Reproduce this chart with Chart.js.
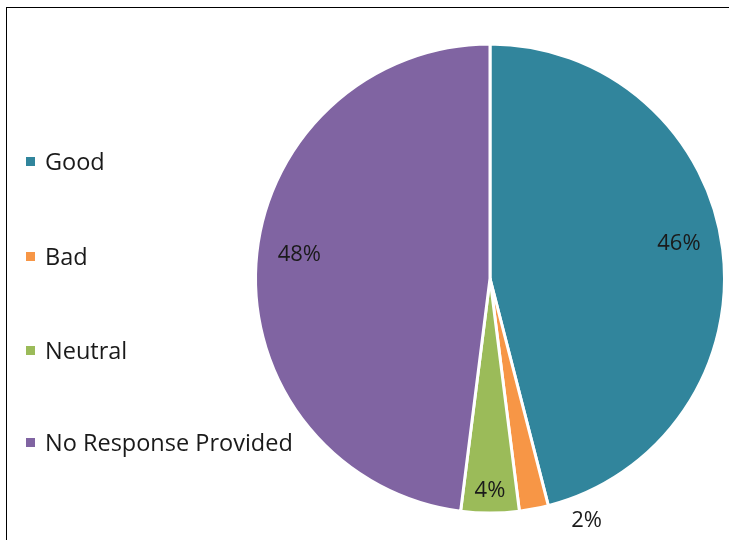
<!DOCTYPE html>
<html>
<head>
<meta charset="utf-8">
<script src="https://cdn.jsdelivr.net/npm/chart.js@4.4.1/dist/chart.umd.min.js"></script>
<style>
  html, body { margin: 0; padding: 0; background: #fff; }
  #wrap { position: relative; width: 729px; height: 540px; overflow: hidden; }
  #frame { position: absolute; left: 6px; top: 7px; width: 800px; height: 600px;
           border-left: 1px solid #000; border-top: 1px solid #000; }
  #chart { position: absolute; left: 0; top: 0; }
  #legend { position: absolute; left: 26px; top: 0; font-family: "Open Sans", sans-serif;
            font-size: 23.5px; color: #1a1a1a; }
  .item { position: absolute; left: 0; white-space: nowrap; display: flex; align-items: center; }
  .box { width: 9px; height: 9px; margin-right: 10px; }
</style>
</head>
<body>
<div id="wrap">
  <div id="frame"></div>
  <canvas id="chart" width="729" height="540"></canvas>
  <div id="legend"></div>
</div>
<script>
const categories = ["Good", "Bad", "Neutral", "No Response Provided"];
const shares = [46, 2, 4, 48];
const colours = ["#31859C", "#F79646", "#9BBB59", "#8064A2"];

// where each percentage sits: fraction of the radius, and a nudge along the arc (degrees)
const labelRadius = [0.82, 1.11, 0.9, 0.82];
const labelShift = [-3.5, -11, 0, 3.9];

// legend rows, one every ~94px
const legendTop = [162, 257, 351, 443];
const legend = document.getElementById("legend");
categories.forEach((name, i) => {
  const row = document.createElement("div");
  row.className = "item";
  row.style.top = (legendTop[i] - 17) + "px";
  row.innerHTML = `<span class="box" style="background:${colours[i]}"></span><span>${name}</span>`;
  legend.appendChild(row);
});

const pctLabels = {
  id: "pctLabels",
  afterDatasetsDraw(chart) {
    const ctx = chart.ctx;
    const arcs = chart.getDatasetMeta(0).data;
    ctx.save();
    ctx.font = '22px "Open Sans", sans-serif';
    ctx.fillStyle = "#1a1a1a";
    ctx.textAlign = "center";
    ctx.textBaseline = "middle";
    arcs.forEach((arc, i) => {
      const p = arc.getProps(["x", "y", "startAngle", "endAngle", "outerRadius"], true);
      const mid = (p.startAngle + p.endAngle) / 2 + labelShift[i] * Math.PI / 180;
      const r = p.outerRadius * labelRadius[i];
      ctx.fillText(shares[i] + "%", p.x + Math.cos(mid) * r, p.y + Math.sin(mid) * r + 1);
    });
    ctx.restore();
  }
};

new Chart(document.getElementById("chart"), {
  type: "pie",
  data: {
    labels: categories,
    datasets: [{
      data: shares,
      backgroundColor: colours,
      borderColor: "#ffffff",
      borderWidth: 3
    }]
  },
  options: {
    responsive: false,
    animation: false,
    layout: { padding: { left: 254, right: 3, top: 42, bottom: 25 } },
    plugins: { legend: { display: false }, tooltip: { enabled: false } }
  },
  plugins: [pctLabels]
});
</script>
</body>
</html>
